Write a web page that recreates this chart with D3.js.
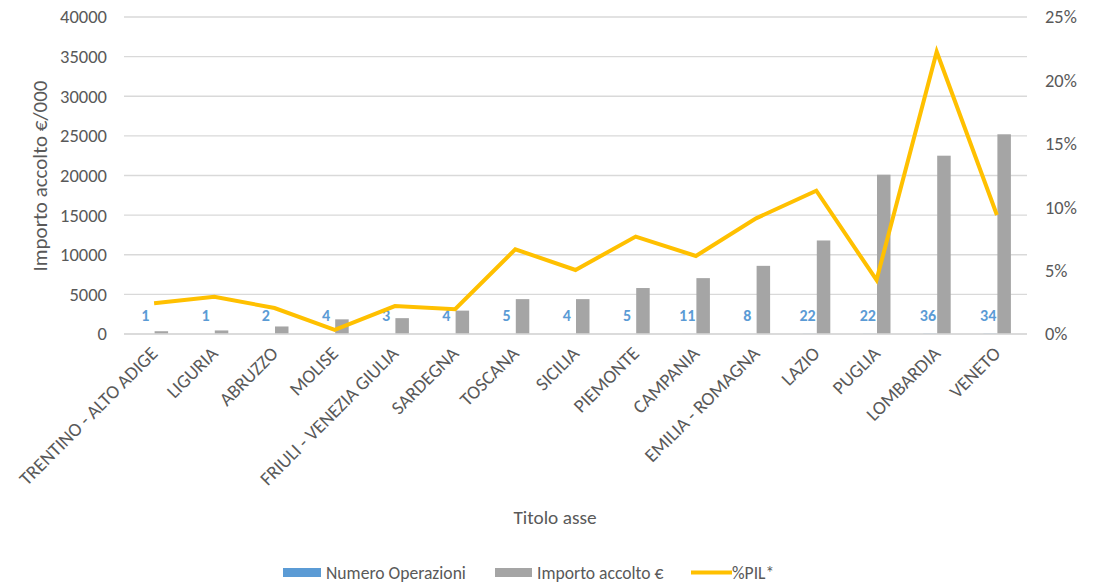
<!DOCTYPE html>
<html><head><meta charset="utf-8">
<script src="https://cdn.jsdelivr.net/npm/d3@7"></script>
<style>
body{margin:0;background:#fff;}
svg text{font-family:Carlito,Calibri,Lato,"Open Sans",sans-serif;}
</style></head>
<body>
<svg id="c" width="1100" height="584"></svg>
<script>
const categories = ["TRENTINO - ALTO ADIGE","LIGURIA","ABRUZZO","MOLISE","FRIULI - VENEZIA GIULIA","SARDEGNA","TOSCANA","SICILIA","PIEMONTE","CAMPANIA","EMILIA - ROMAGNA","LAZIO","PUGLIA","LOMBARDIA","VENETO"];
const numeroOperazioni = [1,1,2,4,3,4,5,4,5,11,8,22,22,36,34];
const importoAccolto = [350,450,950,1850,2000,2950,4400,4400,5800,7050,8600,11800,20100,22500,25200];
const pil = [2.42,2.94,2.05,0.32,2.2,1.95,6.68,5.05,7.68,6.15,9.12,11.3,4.26,22.26,9.38];
const leftTicks = [0,5000,10000,15000,20000,25000,30000,35000,40000];
const rightTicks = [0,5,10,15,20,25];

const svg = d3.select("#c");
const L=124, R=1027, T=17, B=334;
const x = d3.scaleBand().domain(categories).range([L,R]).paddingInner(0).paddingOuter(0);
const y = d3.scaleLinear().domain([0,40000]).range([B,T]);
const y2 = d3.scaleLinear().domain([0,25]).range([B,T]);
const barW = 13.5;
const grey="#595959";

// gridlines
svg.append("g").selectAll("line").data(leftTicks).join("line")
  .attr("x1",L).attr("x2",R).attr("y1",d=>y(d)).attr("y2",d=>y(d))
  .attr("stroke","#d9d9d9").attr("stroke-width",1.3);

// left axis
const ax = svg.append("g").attr("transform",`translate(${L},0)`)
  .call(d3.axisLeft(y).tickValues(leftTicks).tickSize(0).tickPadding(17).tickFormat(d3.format("d")));
ax.select(".domain").remove();
ax.selectAll("text").attr("fill",grey).attr("font-size",18.5);

// right axis
const ax2 = svg.append("g").attr("transform",`translate(${R},0)`)
  .call(d3.axisRight(y2).tickValues(rightTicks).tickSize(0).tickPadding(18).tickFormat(d=>d+"%"));
ax2.select(".domain").remove();
ax2.selectAll("text").attr("fill",grey).attr("font-size",18.4);

// blue bars (tiny)
svg.append("g").selectAll("rect").data(numeroOperazioni).join("rect")
  .attr("x",(d,i)=>x(categories[i])+x.bandwidth()/2-barW)
  .attr("width",barW)
  .attr("y",d=>y(d)).attr("height",d=>y(0)-y(d))
  .attr("fill","#5b9bd5");

// grey bars
svg.append("g").selectAll("rect").data(importoAccolto).join("rect")
  .attr("x",(d,i)=>x(categories[i])+x.bandwidth()/2+0.5)
  .attr("width",barW)
  .attr("y",d=>y(d)).attr("height",d=>y(0)-y(d))
  .attr("fill","#a5a5a5");

// labels
svg.append("g").selectAll("text").data(numeroOperazioni).join("text")
  .attr("x",(d,i)=>x(categories[i])+x.bandwidth()/2-barW/2-2)
  .attr("y",d=>y(d)-13)
  .attr("text-anchor","middle")
  .attr("font-size",16).attr("font-weight","bold").attr("fill","#5b9bd5")
  .text(d=>d);

// axis baseline
svg.append("line").attr("x1",L).attr("x2",R).attr("y1",B).attr("y2",B)
  .attr("stroke","#d9d9d9").attr("stroke-width",1.3);

// line
const line = d3.line().x((d,i)=>x(categories[i])+x.bandwidth()/2).y(d=>y2(d));
svg.append("path").datum(pil).attr("d",line)
  .attr("fill","none").attr("stroke","#ffc000").attr("stroke-width",4).attr("stroke-linejoin","miter");

// x labels
svg.append("g").selectAll("text").data(categories).join("text")
  .attr("transform",d=>`translate(${x(d)+x.bandwidth()/2},${B+16}) rotate(-45)`)
  .attr("text-anchor","end").attr("dy","0.35em")
  .attr("font-size",19).attr("fill",grey)
  .text(d=>d);

// axis titles
svg.append("text").attr("transform","translate(47,176) rotate(-90)")
  .attr("text-anchor","middle").attr("font-size",21).attr("fill",grey)
  .text("Importo accolto €/000");
svg.append("text").attr("x",555).attr("y",524)
  .attr("text-anchor","middle").attr("font-size",19.3).attr("fill",grey)
  .text("Titolo asse");

// legend
const lg = svg.append("g");
lg.append("rect").attr("x",283).attr("y",568).attr("width",38).attr("height",9).attr("fill","#5b9bd5");
lg.append("text").attr("x",326).attr("y",579).attr("font-size",17.6).attr("fill",grey).text("Numero Operazioni");
lg.append("rect").attr("x",495).attr("y",568).attr("width",37).attr("height",9).attr("fill","#a5a5a5");
lg.append("text").attr("x",537).attr("y",579).attr("font-size",17.6).attr("fill",grey).text("Importo accolto €");
lg.append("line").attr("x1",691).attr("x2",732).attr("y1",572.5).attr("y2",572.5).attr("stroke","#ffc000").attr("stroke-width",4);
lg.append("text").attr("x",732).attr("y",579).attr("font-size",17.6).attr("fill",grey).text("%PIL*");
</script>
</body></html>
